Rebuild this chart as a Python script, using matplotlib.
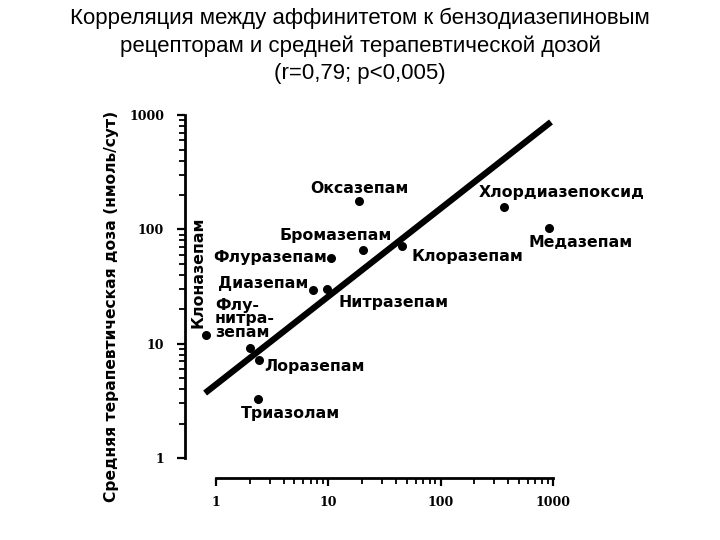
import matplotlib
matplotlib.use("Agg")
import matplotlib.pyplot as plt
import numpy as np
from matplotlib.ticker import FixedLocator, NullFormatter

# Data (affinity x, mean therapeutic dose y)
drugs = ["Клоназепам", "Флу-\nнитра-\nзепам", "Лоразепам", "Триазолам", "Диазепам",
         "Нитразепам", "Флуразепам", "Бромазепам", "Оксазепам", "Клоразепам",
         "Хлордиазепоксид", "Медазепам"]
affinity = [0.82, 2.0, 2.4, 2.37, 7.3, 9.7, 10.6, 20.4, 18.8, 45.3, 367, 923]
dose = [11.9, 9.2, 7.2, 3.3, 29.5, 30.1, 56, 66, 177, 71.6, 157, 103]

# regression line end points
line_x = [0.80, 962]
line_y = [3.7, 871]

tick_vals = [1, 10, 100, 1000]
tick_labels = ["1", "10", "100", "1000"]
minor_vals = [m * d for d in [1, 10, 100] for m in range(2, 10)]

title = ("Корреляция между аффинитетом к бензодиазепиновым\n"
         "рецепторам и средней терапевтической дозой\n(r=0,79; p<0,005)")
ylabel = "Средняя терапевтическая доза (нмоль/сут)"

# label placement (pixel offsets, alignment) - style only
offsets = [(-8, 63, 'center', 90), (-35, 29, 'left', 0), (6, -7, 'left', 0),
           (32, -15, 'center', 0), (-5, 7, 'right', 0), (12, -13, 'left', 0),
           (-4, 1, 'right', 0), (-27, 15, 'center', 0), (0, 13, 'center', 0),
           (10, -11, 'left', 0), (58, 15, 'center', 0), (32, -15, 'center', 0)]

W, H = 720, 540
fig = plt.figure(figsize=(7.2, 5.4), dpi=100)
L, R, T, B = 185, 565, 110, 478
ax = fig.add_axes([L / W, (H - B) / H, (R - L) / W, (B - T) / H])
ax.set_xscale('log')
ax.set_yscale('log')
ax.set_xlim(0.53, 1282)
ax.set_ylim(0.668, 1109)

ax.plot(line_x, line_y, color='black', lw=4.5, solid_capstyle='butt', zorder=2)
ax.scatter(affinity, dose, s=30, color='black', zorder=3)

for name, x, y, (dx, dy, ha, rot) in zip(drugs, affinity, dose, offsets):
    ax.annotate(name, (x, y), xytext=(dx, dy), textcoords='offset pixels',
                ha=ha, va='center', rotation=rot, fontsize=11.3,
                fontweight='bold', family='DejaVu Sans', linespacing=0.9)

for s in ['top', 'right']:
    ax.spines[s].set_visible(False)
for s in ['left', 'bottom']:
    ax.spines[s].set_linewidth(2.0)
    ax.spines[s].set_bounds(1, 1000)

ax.set_xticks(tick_vals)
ax.set_xticklabels(tick_labels)
ax.set_yticks(tick_vals)
ax.set_yticklabels(tick_labels)
for axis in (ax.xaxis, ax.yaxis):
    axis.set_minor_locator(FixedLocator(minor_vals))
    axis.set_minor_formatter(NullFormatter())
ax.tick_params(which='major', direction='out', length=6, width=1.6, pad=7)
ax.tick_params(which='minor', direction='out', length=4, width=1.3)
ax.tick_params(axis='y', which='major', pad=9)
for lab in ax.get_xticklabels() + ax.get_yticklabels():
    lab.set_family('DejaVu Serif')
    lab.set_fontweight('bold')
    lab.set_fontsize(9)

fig.text(112 / W, 1 - 306 / H, ylabel, rotation=90, ha='center', va='center',
         fontsize=11.2, fontweight='bold', family='DejaVu Sans')

fig.text(0.5, 1 - 46 / H, title, ha='center', va='center', fontsize=16,
         family='Liberation Sans', linespacing=1.4)

fig.savefig('out.png', dpi=100)
